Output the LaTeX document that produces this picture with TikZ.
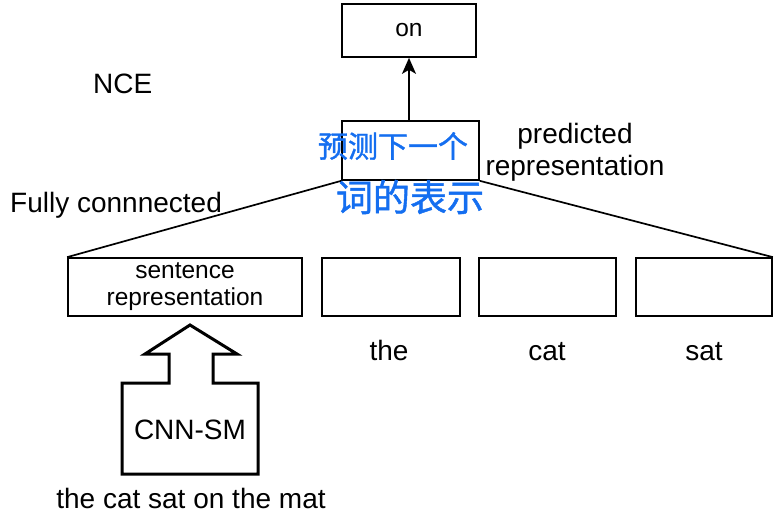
\documentclass[tikz,border=0pt]{standalone}
\usepackage{fontspec}
\setmainfont{Liberation Sans}
\newfontfamily\cjk[FakeBold=1.2]{Noto Sans CJK SC}
\usetikzlibrary{arrows.meta}
\definecolor{ink}{RGB}{20,110,240}
\tikzset{
  box/.style={draw, line width=1.7pt, inner sep=0pt, minimum height=#1},
  box/.default=58pt,
  lbl/.style={font=\fontsize{28}{32}\selectfont, inner sep=0pt},
  boxtxt/.style={font=\fontsize{24.5}{27}\selectfont, align=center},
  link/.style={line width=1.7pt},
  hand/.style={text=ink, inner sep=0pt},
}
\begin{document}
\begin{tikzpicture}[x=1pt,y=-1pt]
\useasboundingbox (0,0) rectangle (780,520);
% boxes
\node[box=53pt, minimum width=134pt, boxtxt] (on) at (409,30.5) {on};
\node[box=59pt, minimum width=137pt] (pred) at (410.5,150.5) {};
\node[box, minimum width=234pt, boxtxt] (sent) at (185,287) {sentence\\representation};
\node[box, minimum width=138pt] (the) at (391,287) {};
\node[box, minimum width=137pt] (cat) at (547.5,287) {};
\node[box, minimum width=136pt] (sat) at (704,287) {};
% connectors
\draw[link, -{Stealth[length=16pt,width=14pt,inset=4pt]}] (pred.north -| on.south) -- (on.south);
\draw[link] (pred.south west) -- (sent.north west);
\draw[link] (pred.south east) -- (sat.north east);
% CNN-SM block arrow
\draw[line width=3pt, line join=miter] (122,474) -- (122,383) -- (169,383) -- (169,354) -- (145,354) -- (190,325) -- (237,354) -- (213,354) -- (213,383) -- (258,383) -- (258,474) -- cycle;
\node[lbl, anchor=base] (cnn) at (190,439) {CNN-SM};
% labels
\node[lbl, anchor=base west] (nce) at (93,93) {NCE};
\node[lbl, anchor=base west] (fc) at (10,212) {Fully connnected};
\node[lbl, align=center] (predlbl) at (575,152) {predicted\\representation};
\node[lbl, anchor=base] (wthe) at (389,360) {the};
\node[lbl, anchor=base] (wcat) at (547,360) {cat};
\node[lbl, anchor=base] (wsat) at (704,360) {sat};
\node[lbl, anchor=base] (sentence) at (191,508) {the cat sat on the mat};
% handwritten note
\node[hand, font=\cjk\fontsize{30}{30}\selectfont] (note1) at (393,146) {预测下一个};
\node[hand, font=\cjk\fontsize{37}{37}\selectfont] (note2) at (410,197) {词的表示};
\end{tikzpicture}
\end{document}
